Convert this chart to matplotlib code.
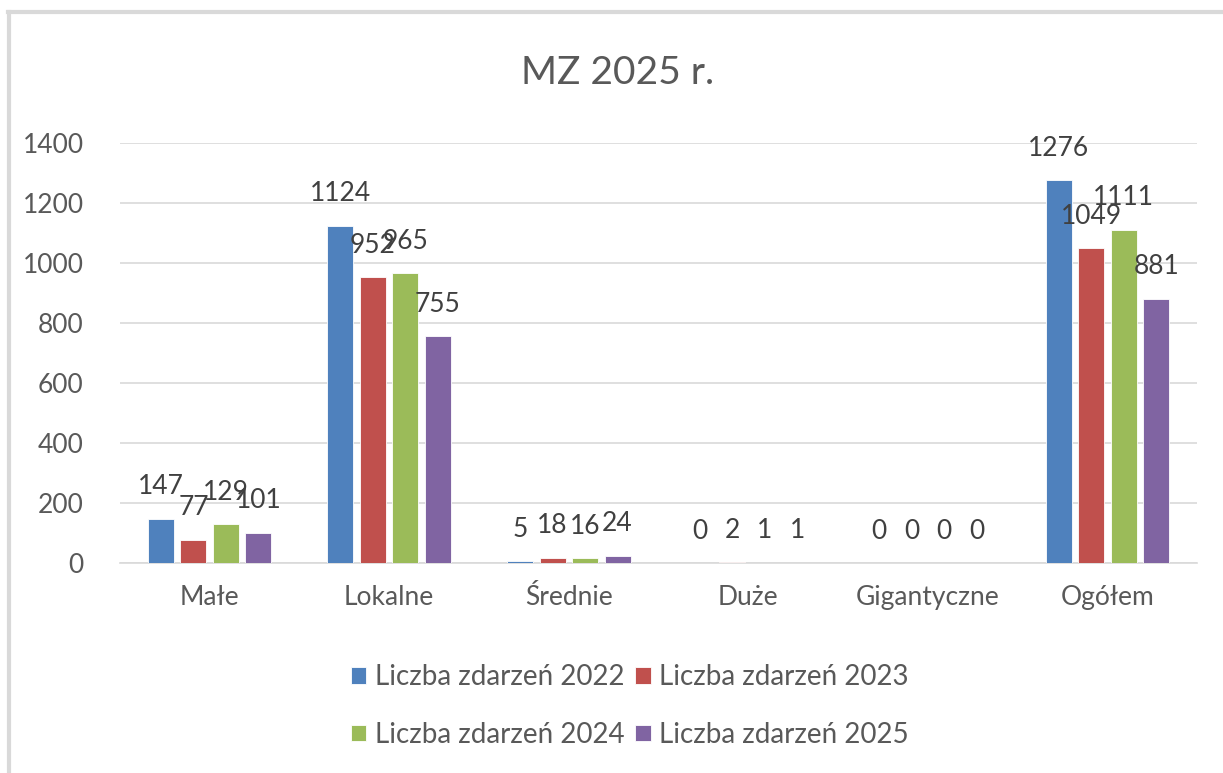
import matplotlib.pyplot as plt
import numpy as np
from matplotlib.lines import Line2D

plt.rcParams['font.family'] = ['Lato', 'DejaVu Sans']

categories = ["Małe", "Lokalne", "Średnie", "Duże", "Gigantyczne", "Ogółem"]
series_names = ["Liczba zdarzeń 2022", "Liczba zdarzeń 2023",
                "Liczba zdarzeń 2024", "Liczba zdarzeń 2025"]
v2022 = [147, 1124, 5, 0, 0, 1276]
v2023 = [77, 952, 18, 2, 0, 1049]
v2024 = [129, 965, 16, 1, 0, 1111]
v2025 = [101, 755, 24, 1, 0, 881]
values = [v2022, v2023, v2024, v2025]
colors = ["#4F81BD", "#C0504D", "#9BBB59", "#8064A2"]
text_col = "#595959"

fig = plt.figure(figsize=(12.23, 7.73), dpi=100)
ax = fig.add_axes([0.098, 0.2717, 0.881, 0.5433])

x = np.arange(len(categories))
pitch = 0.181
width = 0.145
bars = []
for i, (name, vals, c) in enumerate(zip(series_names, values, colors)):
    pos = x + (i - 1.5) * pitch
    b = ax.bar(pos, vals, width, color=c, edgecolor="white", linewidth=0.6,
               label=name, zorder=3)
    bars.append(b)
    for px, v in zip(pos, vals):
        ax.annotate(str(v), (px, v), xytext=(0, 14), textcoords="offset points",
                    ha="center", va="bottom", fontsize=19, color="#404040")

ax.set_xlim(-0.5, len(categories) - 0.5)
ax.set_ylim(0, 1400)
ax.set_yticks(range(0, 1401, 200))
ax.set_xticks(x)
ax.set_xticklabels(categories)
ax.grid(axis="y", color="#D9D9D9", linewidth=1.2, zorder=0)
for s in ax.spines.values():
    s.set_visible(False)
ax.spines["bottom"].set_visible(True)
ax.spines["bottom"].set_color("#D9D9D9")
ax.spines["bottom"].set_linewidth(1.2)
ax.tick_params(axis="both", length=0, labelsize=19, colors=text_col)
ax.tick_params(axis="y", pad=26)
ax.tick_params(axis="x", pad=16)

fig.text(0.505, 0.905, "MZ 2025 r.", ha="center", va="center",
         fontsize=28, color=text_col)

# legend rows: 2022, 2023 / 2024, 2025 (matplotlib fills by column)
order = [0, 2, 1, 3]
leg = fig.legend([bars[i] for i in order], [series_names[i] for i in order],
                 loc="center", bbox_to_anchor=(0.515, 0.0867), ncol=2,
                 frameon=False, fontsize=20, handlelength=0.55, handleheight=0.55,
                 handletextpad=0.3, columnspacing=0.4, labelspacing=1.15)
for t in leg.get_texts():
    t.set_color(text_col)

# chart border (top and left only, as in the screenshot)
fig.add_artist(Line2D([8 / 1223, 1], [1 - 12 / 773, 1 - 12 / 773],
                      transform=fig.transFigure, color="#D9D9D9", linewidth=3))
fig.add_artist(Line2D([9 / 1223, 9 / 1223], [0, 1 - 12 / 773],
                      transform=fig.transFigure, color="#D9D9D9", linewidth=3))

fig.savefig("out.png", dpi=100)
